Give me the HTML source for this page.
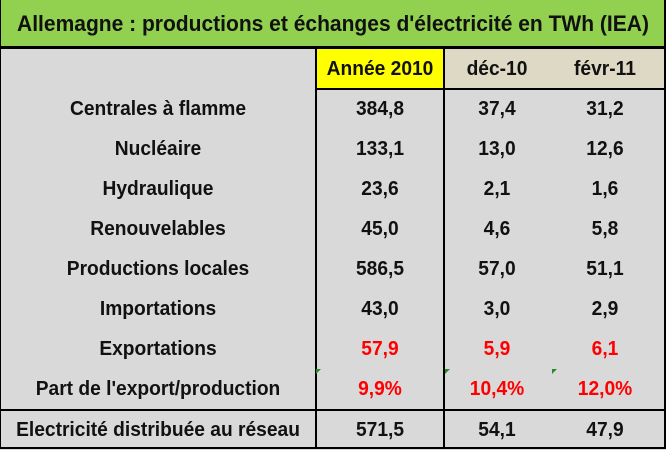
<!DOCTYPE html>
<html><head><meta charset="utf-8"><style>
body{margin:0;width:666px;height:449px;background:#d9d9d9;position:relative;overflow:hidden;font-family:"Liberation Sans",Arial,sans-serif;font-weight:bold;}
div{position:absolute;}
.t{font-size:20px;color:#111;text-align:center;line-height:40px;height:40px;transform:scaleX(0.96);}
.r{color:#ff0000;}
</style></head><body>
<div style="left:0;top:0;width:666px;height:46px;background:#92d050;"></div>
<div style="left:0;top:0;width:666px;height:46px;line-height:48px;text-align:center;font-size:22px;color:#111;transform:scaleX(0.955);">Allemagne : productions et échanges d'électricité en TWh (IEA)</div>
<div style="left:0;top:46px;width:666px;height:3px;background:#000;"></div>
<div style="left:316px;top:49px;width:127px;height:39px;background:#ffff00;"></div>
<div style="left:445px;top:49px;width:221px;height:39px;background:#ddd9c4;"></div>
<div style="left:316px;top:88px;width:350px;height:2px;background:#000;"></div>
<div style="left:315px;top:49px;width:2px;height:400px;background:#000;"></div>
<div style="left:443px;top:49px;width:2px;height:400px;background:#000;"></div>
<div style="left:664px;top:0;width:2px;height:449px;background:#000;"></div>
<div style="left:0;top:0;width:1px;height:449px;background:#000;"></div>
<div style="left:0;top:409px;width:666px;height:2px;background:#000;"></div>
<div style="left:0;top:447px;width:666px;height:2px;background:#000;"></div>
<div style="left:316px;top:369px;width:0;height:0;border-top:5px solid #2a8a2a;border-right:5px solid transparent;"></div>
<div style="left:445px;top:369px;width:0;height:0;border-top:5px solid #2a8a2a;border-right:5px solid transparent;"></div>
<div style="left:552px;top:369px;width:0;height:0;border-top:5px solid #2a8a2a;border-right:5px solid transparent;"></div>

<div class="t" style="left:317px;top:49px;width:126px;">Année 2010</div>
<div class="t" style="left:445px;top:49px;width:104px;">déc-10</div>
<div class="t" style="left:552px;top:49px;width:106px;">févr-11</div>

<div class="t" style="left:0;top:89px;width:316px;">Centrales à flamme</div>
<div class="t" style="left:317px;top:89px;width:126px;">384,8</div>
<div class="t" style="left:445px;top:89px;width:104px;">37,4</div>
<div class="t" style="left:552px;top:89px;width:106px;">31,2</div>

<div class="t" style="left:0;top:129px;width:316px;">Nucléaire</div>
<div class="t" style="left:317px;top:129px;width:126px;">133,1</div>
<div class="t" style="left:445px;top:129px;width:104px;">13,0</div>
<div class="t" style="left:552px;top:129px;width:106px;">12,6</div>

<div class="t" style="left:0;top:169px;width:316px;">Hydraulique</div>
<div class="t" style="left:317px;top:169px;width:126px;">23,6</div>
<div class="t" style="left:445px;top:169px;width:104px;">2,1</div>
<div class="t" style="left:552px;top:169px;width:106px;">1,6</div>

<div class="t" style="left:0;top:209px;width:316px;">Renouvelables</div>
<div class="t" style="left:317px;top:209px;width:126px;">45,0</div>
<div class="t" style="left:445px;top:209px;width:104px;">4,6</div>
<div class="t" style="left:552px;top:209px;width:106px;">5,8</div>

<div class="t" style="left:0;top:249px;width:316px;">Productions locales</div>
<div class="t" style="left:317px;top:249px;width:126px;">586,5</div>
<div class="t" style="left:445px;top:249px;width:104px;">57,0</div>
<div class="t" style="left:552px;top:249px;width:106px;">51,1</div>

<div class="t" style="left:0;top:289px;width:316px;">Importations</div>
<div class="t" style="left:317px;top:289px;width:126px;">43,0</div>
<div class="t" style="left:445px;top:289px;width:104px;">3,0</div>
<div class="t" style="left:552px;top:289px;width:106px;">2,9</div>

<div class="t" style="left:0;top:329px;width:316px;">Exportations</div>
<div class="t r" style="left:317px;top:329px;width:126px;">57,9</div>
<div class="t r" style="left:445px;top:329px;width:104px;">5,9</div>
<div class="t r" style="left:552px;top:329px;width:106px;">6,1</div>

<div class="t" style="left:0;top:369px;width:316px;">Part de l'export/production</div>
<div class="t r" style="left:317px;top:369px;width:126px;">9,9%</div>
<div class="t r" style="left:445px;top:369px;width:104px;">10,4%</div>
<div class="t r" style="left:552px;top:369px;width:106px;">12,0%</div>

<div class="t" style="left:0;top:410px;width:316px;">Electricité distribuée au réseau</div>
<div class="t" style="left:317px;top:410px;width:126px;">571,5</div>
<div class="t" style="left:445px;top:410px;width:104px;">54,1</div>
<div class="t" style="left:552px;top:410px;width:106px;">47,9</div>
</body></html>
